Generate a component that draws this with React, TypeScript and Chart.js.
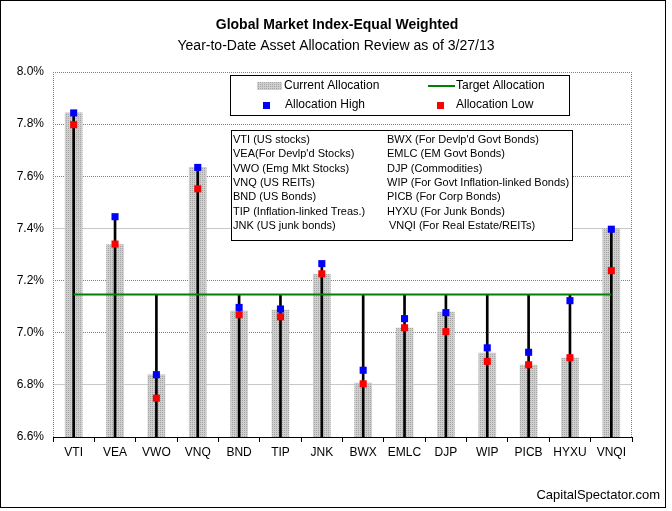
import React, { useEffect, useRef } from 'react';
import { Chart, registerables } from 'chart.js';

Chart.register(...registerables);

const categories = ['VTI', 'VEA', 'VWO', 'VNQ', 'BND', 'TIP', 'JNK', 'BWX', 'EMLC', 'DJP', 'WIP', 'PICB', 'HYXU', 'VNQI'];
const currentAllocation = [7.843, 7.338, 6.838, 7.634, 7.083, 7.087, 7.224, 6.807, 7.018, 7.079, 6.922, 6.876, 6.903, 7.4];
const allocationHigh = [7.843, 7.445, 6.839, 7.634, 7.097, 7.091, 7.265, 6.856, 7.054, 7.077, 6.942, 6.925, 7.123, 7.397];
const allocationLow = [7.798, 7.34, 6.749, 7.552, 7.069, 7.061, 7.226, 6.804, 7.019, 7.004, 6.89, 6.877, 6.904, 7.238];
const targetAllocation = 7.147;
const yMin = 6.6;
const yMax = 8.0;
const yStep = 0.2;

const titleText = 'Global Market Index-Equal Weighted';
const subtitleText = 'Year-to-Date Asset Allocation Review as of 3/27/13';
const legendLabels = ['Current Allocation', 'Target Allocation', 'Allocation High', 'Allocation Low'];
const keyLeft = ['VTI (US stocks)', "VEA(For Devlp'd Stocks)", 'VWO (Emg Mkt Stocks)', 'VNQ (US REITs)', 'BND (US Bonds)', 'TIP (Inflation-linked Treas.)', 'JNK (US junk bonds)'];
const keyRight = ["BWX (For Devlp'd Govt Bonds)", 'EMLC (EM Govt Bonds)', 'DJP (Commodities)', 'WIP (For Govt Inflation-linked Bonds)', 'PICB (For Corp Bonds)', 'HYXU (For Junk Bonds)', 'VNQI (For Real Estate/REITs)'];
const sourceText = 'CapitalSpectator.com';

const FONT = "'Liberation Sans', Arial, sans-serif";

function makePattern(): CanvasPattern | string {
  const c = document.createElement('canvas');
  c.width = 2;
  c.height = 2;
  const g = c.getContext('2d');
  if (!g) return '#c0c0c0';
  g.fillStyle = '#cfcfcf';
  g.fillRect(0, 0, 2, 2);
  g.fillStyle = '#a4a4a4';
  g.fillRect(0, 0, 1, 1);
  const p = g.createPattern(c, 'repeat');
  return p || '#c0c0c0';
}

export default function App() {
  const ref = useRef<HTMLCanvasElement>(null);

  useEffect(() => {
    const canvas = ref.current;
    if (!canvas) return;
    const pattern = makePattern();

    const decor = {
      id: 'decor',
      beforeDraw(chart: any) {
        const ctx = chart.ctx;
        ctx.save();
        ctx.fillStyle = '#ffffff';
        ctx.fillRect(0, 0, chart.width, chart.height);
        ctx.restore();
      },
      afterDraw(chart: any) {
        const ctx = chart.ctx as CanvasRenderingContext2D;
        const { left, right, top, bottom } = chart.chartArea;
        ctx.save();
        // plot area side borders (dotted)
        ctx.strokeStyle = '#808080';
        ctx.lineWidth = 1;
        ctx.setLineDash([1, 1]);
        ctx.beginPath();
        ctx.moveTo(Math.round(left) + 0.5, top);
        ctx.lineTo(Math.round(left) + 0.5, bottom);
        ctx.moveTo(Math.round(right) - 0.5, top);
        ctx.lineTo(Math.round(right) - 0.5, bottom);
        ctx.stroke();
        ctx.setLineDash([]);

        // outer border
        ctx.strokeStyle = '#000000';
        ctx.lineWidth = 1;
        ctx.strokeRect(0.5, 0.5, 665, 507);

        // titles
        ctx.fillStyle = '#000000';
        ctx.textAlign = 'center';
        ctx.textBaseline = 'middle';
        ctx.font = `bold 14px ${FONT}`;
        ctx.fillText(titleText, 337, 25);
        ctx.font = `14px ${FONT}`;
        ctx.fillText(subtitleText, 336, 46);

        // legend box
        ctx.fillStyle = '#ffffff';
        ctx.fillRect(230.5, 75.5, 339, 40);
        ctx.strokeStyle = '#000000';
        ctx.strokeRect(230.5, 75.5, 339, 40);
        ctx.fillStyle = pattern as any;
        ctx.fillRect(257, 82, 25, 8);
        ctx.strokeStyle = '#008000';
        ctx.lineWidth = 2;
        ctx.beginPath();
        ctx.moveTo(428, 86);
        ctx.lineTo(455, 86);
        ctx.stroke();
        ctx.fillStyle = '#0000ff';
        ctx.fillRect(263, 102, 7, 7);
        ctx.fillStyle = '#ff0000';
        ctx.fillRect(437, 102, 7, 7);
        ctx.fillStyle = '#000000';
        ctx.textAlign = 'left';
        ctx.font = `12px ${FONT}`;
        ctx.fillText(legendLabels[0], 284, 86);
        ctx.fillText(legendLabels[1], 456, 86);
        ctx.fillText(legendLabels[2], 285, 105);
        ctx.fillText(legendLabels[3], 456, 105);

        // key box
        ctx.fillStyle = '#ffffff';
        ctx.fillRect(231.5, 130.5, 341, 110);
        ctx.lineWidth = 1;
        ctx.strokeStyle = '#000000';
        ctx.strokeRect(231.5, 130.5, 341, 110);
        ctx.fillStyle = '#000000';
        ctx.font = `11px ${FONT}`;
        keyLeft.forEach((t, i) => ctx.fillText(t, 233, 140 + i * 14.3));
        keyRight.forEach((t, i) => ctx.fillText(t, i === keyRight.length - 1 ? 389 : 387, 140 + i * 14.3));

        // source
        ctx.textAlign = 'right';
        ctx.font = `13px ${FONT}`;
        ctx.fillText(sourceText, 660, 495);
        ctx.restore();
      },
    };

    const lineTops = allocationHigh.map((h) => [yMin, Math.max(h, targetAllocation)]);

    const chart = new Chart(canvas, {
      type: 'bar',
      data: {
        labels: categories,
        datasets: [
          {
            type: 'bar',
            label: legendLabels[0],
            data: currentAllocation,
            backgroundColor: pattern as any,
            borderWidth: 0,
            barThickness: 17,
            grouped: false,
            order: 5,
          } as any,
          {
            type: 'bar',
            label: 'range',
            data: lineTops,
            backgroundColor: '#000000',
            borderWidth: 0,
            barThickness: 2,
            grouped: false,
            order: 4,
          } as any,
          {
            type: 'line',
            label: legendLabels[1],
            data: categories.map(() => targetAllocation),
            borderColor: '#008000',
            borderWidth: 2,
            pointRadius: 0,
            fill: false,
            order: 3,
          },
          {
            type: 'line',
            label: legendLabels[2],
            data: allocationHigh,
            showLine: false,
            pointStyle: 'rect',
            pointRadius: 5,
            pointBackgroundColor: '#0000ff',
            pointBorderWidth: 0,
            order: 2,
          },
          {
            type: 'line',
            label: legendLabels[3],
            data: allocationLow,
            showLine: false,
            pointStyle: 'rect',
            pointRadius: 5,
            pointBackgroundColor: '#ff0000',
            pointBorderWidth: 0,
            order: 1,
          },
        ],
      },
      options: {
        responsive: false,
        animation: false,
        events: [],
        layout: { padding: { left: 0, top: 72, right: 40, bottom: 0 } },
        plugins: { legend: { display: false }, tooltip: { enabled: false }, title: { display: false } },
        scales: {
          x: {
            offset: true,
            grid: {
              offset: true,
              drawOnChartArea: false,
              drawTicks: true,
              tickLength: 5,
              tickColor: '#000000',
              color: '#000000',
            },
            border: { display: true, color: '#000000', width: 1 },
            ticks: { color: '#000000', font: { family: FONT, size: 12 }, padding: 3, maxRotation: 0, autoSkip: false },
            afterFit: (scale: any) => {
              scale.height = 511 - 437;
            },
          },
          y: {
            min: yMin,
            max: yMax,
            grid: {
              drawTicks: false,
              lineWidth: 1,
              color: (ctx: any) => {
                const v = ctx.tick ? Math.round(ctx.tick.value * 10) / 10 : 0;
                return v === 7.4 || v === 6.8 ? '#c8c8c8' : '#808080';
              },
            },
            border: {
              display: false,
              dash: (ctx: any) => {
                const v = ctx.tick ? Math.round(ctx.tick.value * 10) / 10 : 0;
                return v === 7.4 || v === 6.8 ? [] : [1, 1];
              },
            } as any,
            ticks: {
              stepSize: yStep,
              color: '#000000',
              padding: 9,
              font: { family: FONT, size: 12 },
              callback: (v: any) => Number(v).toFixed(1) + '%',
            },
            afterFit: (scale: any) => {
              scale.width = 53;
            },
          },
        },
      },
      plugins: [decor],
    });

    return () => chart.destroy();
  }, []);

  return (
    <div style={{ position: 'absolute', left: 0, top: 0, width: 672, height: 511 }}>
      <canvas ref={ref} width={672} height={511} style={{ display: 'block', width: 672, height: 511 }} />
    </div>
  );
}
